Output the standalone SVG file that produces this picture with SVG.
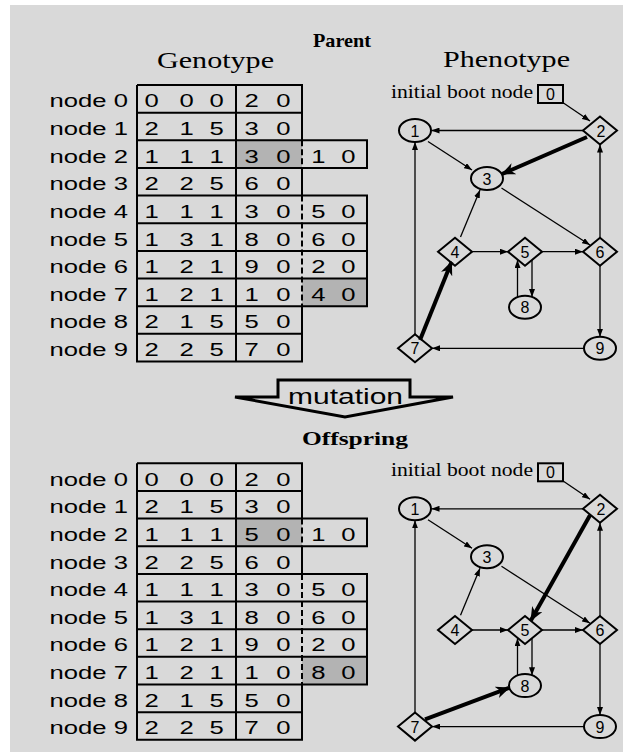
<svg xmlns="http://www.w3.org/2000/svg" width="623" height="752" viewBox="0 0 623 752">
<style>
.num{font-family:"Liberation Sans",Arial,sans-serif;font-size:19px;text-anchor:middle;fill:#000}
.lbl{font-family:"Liberation Sans",Arial,sans-serif;font-size:19px;text-anchor:end;fill:#000}
.hd{font-family:"Liberation Serif","Times New Roman",serif;font-size:24px;fill:#000}
.hb{font-family:"Liberation Serif","Times New Roman",serif;font-size:19px;font-weight:bold;fill:#000}
.ib{font-family:"Liberation Serif","Times New Roman",serif;font-size:18px;fill:#000}
.tl{fill:none;stroke:#000;stroke-width:2}
.td{fill:none;stroke:#000;stroke-width:2;stroke-dasharray:6 3}
.nd{fill:none;stroke:#000;stroke-width:2}
.nt{font-family:"Liberation Sans",Arial,sans-serif;font-size:16px;text-anchor:middle;fill:#000}
.e{fill:none;stroke:#000;stroke-width:1.3;marker-end:url(#ah)}
.et{fill:none;stroke:#000;stroke-width:4;marker-end:url(#aht)}
</style>
<defs>
<marker id="ah" viewBox="0 0 8 6" refX="8" refY="3" markerWidth="8" markerHeight="6" markerUnits="userSpaceOnUse" orient="auto"><path d="M0,0 L8,3 L0,6 z" fill="#000"/></marker>
<marker id="aht" viewBox="0 0 14 12" refX="13" refY="6" markerWidth="14" markerHeight="12" markerUnits="userSpaceOnUse" orient="auto"><path d="M0,0 L14,6 L0,12 L4,6 z" fill="#000"/></marker>
<g id="grid">
<path class="tl" d="M137,85 H302 V140.3 M302,167.95 V195.6 M302,306.2 V361.5 H137 V85 M236,85 V361.5 M137,112.65 H302 M137,140.3 H367 V167.95 H137 M137,195.6 H367 V306.2 H137 M137,223.25 H367 M137,250.9 H367 M137,278.55 H367 M137,333.85 H302"/>
<path class="td" d="M302,140.3 V167.95 M302,195.6 V306.2"/>
</g>
</defs>
<rect x="10" y="5" width="613" height="747" fill="#d9d9d9"/>

<!-- Headers -->
<text class="hb" x="313" y="47" textLength="58" lengthAdjust="spacingAndGlyphs">Parent</text>
<text class="hd" x="157" y="68" textLength="117" lengthAdjust="spacingAndGlyphs">Genotype</text>
<text class="hd" x="443" y="67" textLength="127" lengthAdjust="spacingAndGlyphs">Phenotype</text>

<!-- Parent table -->
<g id="parent-table">
<rect x="236" y="140.3" width="66" height="27.65" fill="#b3b3b3"/>
<rect x="302" y="278.55" width="65" height="27.65" fill="#b3b3b3"/>
<use href="#grid"/>
<g transform="scale(1.35,1)">
<text class="lbl" x="94.8" y="107.3">node 0</text>
<text class="lbl" x="94.8" y="134.95">node 1</text>
<text class="lbl" x="94.8" y="162.6">node 2</text>
<text class="lbl" x="94.8" y="190.25">node 3</text>
<text class="lbl" x="94.8" y="217.9">node 4</text>
<text class="lbl" x="94.8" y="245.55">node 5</text>
<text class="lbl" x="94.8" y="273.2">node 6</text>
<text class="lbl" x="94.8" y="300.85">node 7</text>
<text class="lbl" x="94.8" y="328.5">node 8</text>
<text class="lbl" x="94.8" y="356.15">node 9</text>
<text class="num" x="112.4 138.3 160.5 186.4 209.9" y="107.3">00020</text>
<text class="num" x="112.4 138.3 160.5 186.4 209.9" y="134.95">21530</text>
<text class="num" x="112.4 138.3 160.5 186.4 209.9 235.8 258" y="162.6">1113010</text>
<text class="num" x="112.4 138.3 160.5 186.4 209.9" y="190.25">22560</text>
<text class="num" x="112.4 138.3 160.5 186.4 209.9 235.8 258" y="217.9">1113050</text>
<text class="num" x="112.4 138.3 160.5 186.4 209.9 235.8 258" y="245.55">1318060</text>
<text class="num" x="112.4 138.3 160.5 186.4 209.9 235.8 258" y="273.2">1219020</text>
<text class="num" x="112.4 138.3 160.5 186.4 209.9 235.8 258" y="300.85">1211040</text>
<text class="num" x="112.4 138.3 160.5 186.4 209.9" y="328.5">21550</text>
<text class="num" x="112.4 138.3 160.5 186.4 209.9" y="356.15">22570</text>
</g>
</g>

<!-- Parent phenotype -->
<g id="parent-graph">
<text class="ib" x="391" y="98" textLength="142" lengthAdjust="spacingAndGlyphs">initial boot node</text>
<g id="p-n0"><rect class="nd" x="538" y="85" width="25" height="18"/><text class="nt" x="550.5" y="100">0</text></g>
<g id="p-n1"><ellipse class="nd" cx="415" cy="130.5" rx="16" ry="11.5"/><text class="nt" x="415" y="136.5">1</text></g>
<g id="p-n2"><path class="nd" d="M583,130.5 L600,116.5 L617,130.5 L600,144.5 Z"/><text class="nt" x="601" y="136.5">2</text></g>
<g id="p-n3"><ellipse class="nd" cx="487" cy="178.5" rx="16" ry="11.5"/><text class="nt" x="487" y="184.5">3</text></g>
<g id="p-n4"><path class="nd" d="M438,251.7 L455,237.7 L472,251.7 L455,265.7 Z"/><text class="nt" x="455" y="257.7">4</text></g>
<g id="p-n5"><path class="nd" d="M508,251.7 L525,237.7 L542,251.7 L525,265.7 Z"/><text class="nt" x="525" y="257.7">5</text></g>
<g id="p-n6"><path class="nd" d="M583,251.7 L600,237.7 L617,251.7 L600,265.7 Z"/><text class="nt" x="600" y="257.7">6</text></g>
<g id="p-n7"><path class="nd" d="M398,348.3 L415,334.3 L432,348.3 L415,362.3 Z"/><text class="nt" x="415" y="354.3">7</text></g>
<g id="p-n8"><ellipse class="nd" cx="525" cy="307.3" rx="16" ry="11.5"/><text class="nt" x="525" y="313.3">8</text></g>
<g id="p-n9"><ellipse class="nd" cx="600" cy="348.3" rx="16" ry="11.5"/><text class="nt" x="600" y="354.3">9</text></g>
<g id="p-edges">
<path class="e" d="M562,102 L590,121"/>
<path class="e" d="M583,130.5 L431.5,130.5"/>
<path class="e" d="M428,141.5 L472,170"/>
<path class="e" d="M501.5,188 L590,245"/>
<path class="e" d="M460.5,237 L480,190"/>
<path class="e" d="M472,251.7 L508,251.7"/>
<path class="e" d="M542,251.7 L583,251.7"/>
<path class="e" d="M600,237.7 L600,144.5"/>
<path class="e" d="M600,265.7 L600,336.8"/>
<path class="e" d="M584,348.3 L432,348.3"/>
<path class="e" d="M415,334.3 L415,142"/>
<path class="e" d="M532,260 L532,297"/>
<path class="e" d="M517.5,297.5 L517.5,260"/>
<path class="et" d="M587,137 L502,174"/>
<path class="et" d="M420,340 L451.5,262"/>
</g>
</g>

<!-- Mutation arrow -->
<g id="mutation">
<path d="M278,380 H410 V397 H453 L345,417 L235,397 H278 Z" fill="none" stroke="#000" stroke-width="3" stroke-linejoin="miter"/>
<text x="288" y="404" font-family="Liberation Sans, Arial, sans-serif" font-size="22" textLength="115" lengthAdjust="spacingAndGlyphs">mutation</text>
</g>
<text class="hb" x="302" y="445" textLength="106" lengthAdjust="spacingAndGlyphs">Offspring</text>

<!-- Offspring table -->
<g id="offspring-table" transform="translate(0,378.3)">
<rect x="236" y="140.3" width="66" height="27.65" fill="#b3b3b3"/>
<rect x="302" y="278.55" width="65" height="27.65" fill="#b3b3b3"/>
<use href="#grid"/>
<g transform="scale(1.35,1)">
<text class="lbl" x="94.8" y="107.3">node 0</text>
<text class="lbl" x="94.8" y="134.95">node 1</text>
<text class="lbl" x="94.8" y="162.6">node 2</text>
<text class="lbl" x="94.8" y="190.25">node 3</text>
<text class="lbl" x="94.8" y="217.9">node 4</text>
<text class="lbl" x="94.8" y="245.55">node 5</text>
<text class="lbl" x="94.8" y="273.2">node 6</text>
<text class="lbl" x="94.8" y="300.85">node 7</text>
<text class="lbl" x="94.8" y="328.5">node 8</text>
<text class="lbl" x="94.8" y="356.15">node 9</text>
<text class="num" x="112.4 138.3 160.5 186.4 209.9" y="107.3">00020</text>
<text class="num" x="112.4 138.3 160.5 186.4 209.9" y="134.95">21530</text>
<text class="num" x="112.4 138.3 160.5 186.4 209.9 235.8 258" y="162.6">1115010</text>
<text class="num" x="112.4 138.3 160.5 186.4 209.9" y="190.25">22560</text>
<text class="num" x="112.4 138.3 160.5 186.4 209.9 235.8 258" y="217.9">1113050</text>
<text class="num" x="112.4 138.3 160.5 186.4 209.9 235.8 258" y="245.55">1318060</text>
<text class="num" x="112.4 138.3 160.5 186.4 209.9 235.8 258" y="273.2">1219020</text>
<text class="num" x="112.4 138.3 160.5 186.4 209.9 235.8 258" y="300.85">1211080</text>
<text class="num" x="112.4 138.3 160.5 186.4 209.9" y="328.5">21550</text>
<text class="num" x="112.4 138.3 160.5 186.4 209.9" y="356.15">22570</text>
</g>
</g>

<!-- Offspring phenotype -->
<g id="offspring-graph" transform="translate(0,378.3)">
<text class="ib" x="391" y="98" textLength="142" lengthAdjust="spacingAndGlyphs">initial boot node</text>
<g id="o-n0"><rect class="nd" x="538" y="85" width="25" height="18"/><text class="nt" x="550.5" y="100">0</text></g>
<g id="o-n1"><ellipse class="nd" cx="415" cy="130.5" rx="16" ry="11.5"/><text class="nt" x="415" y="136.5">1</text></g>
<g id="o-n2"><path class="nd" d="M583,130.5 L600,116.5 L617,130.5 L600,144.5 Z"/><text class="nt" x="601" y="136.5">2</text></g>
<g id="o-n3"><ellipse class="nd" cx="487" cy="178.5" rx="16" ry="11.5"/><text class="nt" x="487" y="184.5">3</text></g>
<g id="o-n4"><path class="nd" d="M438,251.7 L455,237.7 L472,251.7 L455,265.7 Z"/><text class="nt" x="455" y="257.7">4</text></g>
<g id="o-n5"><path class="nd" d="M508,251.7 L525,237.7 L542,251.7 L525,265.7 Z"/><text class="nt" x="525" y="257.7">5</text></g>
<g id="o-n6"><path class="nd" d="M583,251.7 L600,237.7 L617,251.7 L600,265.7 Z"/><text class="nt" x="600" y="257.7">6</text></g>
<g id="o-n7"><path class="nd" d="M398,348.3 L415,334.3 L432,348.3 L415,362.3 Z"/><text class="nt" x="415" y="354.3">7</text></g>
<g id="o-n8"><ellipse class="nd" cx="525" cy="307.3" rx="16" ry="11.5"/><text class="nt" x="525" y="313.3">8</text></g>
<g id="o-n9"><ellipse class="nd" cx="600" cy="348.3" rx="16" ry="11.5"/><text class="nt" x="600" y="354.3">9</text></g>
<g id="o-edges">
<path class="e" d="M562,102 L590,121"/>
<path class="e" d="M583,130.5 L431.5,130.5"/>
<path class="e" d="M428,141.5 L472,170"/>
<path class="e" d="M501.5,188 L590,245"/>
<path class="e" d="M460.5,237 L480,190"/>
<path class="e" d="M472,251.7 L508,251.7"/>
<path class="e" d="M542,251.7 L583,251.7"/>
<path class="e" d="M600,237.7 L600,144.5"/>
<path class="e" d="M600,265.7 L600,336.8"/>
<path class="e" d="M584,348.3 L432,348.3"/>
<path class="e" d="M415,334.3 L415,142"/>
<path class="e" d="M532,260 L532,297"/>
<path class="e" d="M517.5,297.5 L517.5,260"/>
<path class="et" d="M590,137 L531,242"/>
<path class="et" d="M425,341 L509,309.5"/>
</g>
</g>
</svg>
